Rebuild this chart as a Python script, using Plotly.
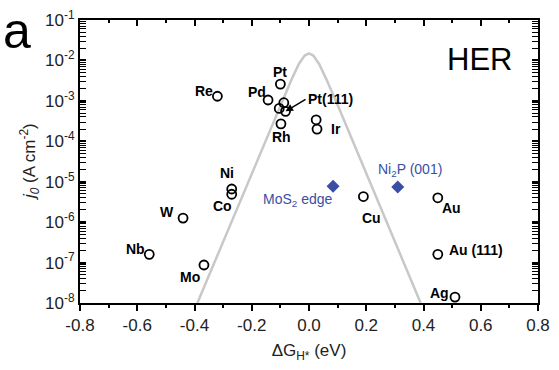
import math
import plotly.graph_objects as go

# ---- data ----
metal_names = ["Re", "Pd", "Pt", "Pt(111)", "", "", "Rh", "", "Ir", "Ni", "Co", "W", "Nb", "Mo",
               "Cu", "Au", "Au (111)", "Ag"]
metal_dG = [-0.32, -0.143, -0.10, -0.088, -0.104, -0.082, -0.098, 0.025, 0.028, -0.27, -0.27,
            -0.44, -0.558, -0.367, 0.19, 0.45, 0.45, 0.51]
metal_j0 = [1.3e-3, 1.05e-3, 2.6e-3, 9.0e-4, 6.5e-4, 5.5e-4, 2.7e-4, 3.4e-4, 2.0e-4, 6.6e-6, 4.9e-6,
            1.26e-6, 1.6e-7, 8.7e-8, 4.3e-6, 4.0e-6, 1.6e-7, 1.4e-8]

catalyst_names = ["MoS<sub>2</sub> edge", "Ni<sub>2</sub>P (001)"]
catalyst_dG = [0.084, 0.31]
catalyst_j0 = [7.7e-6, 7.4e-6]

volcano_dG = [-0.39, -0.10, -0.06, -0.035, -0.015, 0.0, 0.015, 0.035, 0.06, 0.10, 0.39]
volcano_j0 = [1e-8, 7.9e-4, 3.5e-3, 8.3e-3, 1.32e-2, 1.5e-2, 1.32e-2, 8.3e-3, 3.5e-3, 7.9e-4, 1e-8]

x_ticks = [-0.8, -0.6, -0.4, -0.2, 0.0, 0.2, 0.4, 0.6, 0.8]
y_ticks = [1e-8, 1e-7, 1e-6, 1e-5, 1e-4, 1e-3, 1e-2, 1e-1]
y_ticklabels = ["10<sup>-8</sup>", "10<sup>-7</sup>", "10<sup>-6</sup>", "10<sup>-5</sup>",
                "10<sup>-4</sup>", "10<sup>-3</sup>", "10<sup>-2</sup>", "10<sup>-1</sup>"]

# label offsets (pixels: dx right, dy up) — styling only
metal_label_offsets = [(-13, 5), (-11, 8), (0, 12), None, None, None, (1, -13), None, (19, 0),
                       (-5, 16), (-9, -12), (-16, 6), (-14, 5), (-14, -12),
                       (8, -21), (14, -10), (38, 4), (-15, 4)]
catalyst_label_offsets = [(-36, -14), (12, 17)]

FONT = "Liberation Sans, Arial, sans-serif"
BLUE = "#3b4ea6"

fig = go.Figure()

fig.add_trace(go.Scatter(x=volcano_dG, y=volcano_j0, mode="lines",
                         line=dict(color="#c8c8c8", width=2.5), hoverinfo="skip"))

fig.add_trace(go.Scatter(x=metal_dG, y=metal_j0, mode="markers",
                         marker=dict(symbol="circle-open", size=9, color="black",
                                     line=dict(width=1.8, color="black")),
                         cliponaxis=False))

fig.add_trace(go.Scatter(x=catalyst_dG, y=catalyst_j0, mode="markers",
                         marker=dict(symbol="diamond", size=10, color=BLUE),
                         cliponaxis=False))

# invisible trace for top mirror axis
fig.add_trace(go.Scatter(x=[x_ticks[0]], y=[y_ticks[0]], xaxis="x2", mode="markers",
                         marker=dict(opacity=0), hoverinfo="skip"))

annotations = []
for name, xv, yv, off in zip(metal_names, metal_dG, metal_j0, metal_label_offsets):
    if not name or off is None:
        continue
    annotations.append(dict(x=xv, y=math.log10(yv), xref="x", yref="y", text=f"<b>{name}</b>",
                            showarrow=False, xshift=off[0], yshift=off[1],
                            xanchor="center", yanchor="middle",
                            font=dict(family=FONT, size=14, color="black")))

# Pt(111) label with arrow
annotations.append(dict(x=metal_dG[5], y=math.log10(metal_j0[5]), xref="x", yref="y",
                        text="<b>Pt(111)</b>", showarrow=True, ax=20, ay=-12,
                        xanchor="left", arrowhead=2, arrowsize=1, arrowwidth=1.5,
                        arrowcolor="black", standoff=0,
                        font=dict(family=FONT, size=14, color="black")))

for name, xv, yv, off in zip(catalyst_names, catalyst_dG, catalyst_j0, catalyst_label_offsets):
    annotations.append(dict(x=xv, y=math.log10(yv), xref="x", yref="y", text=name,
                            showarrow=False, xshift=off[0], yshift=off[1],
                            xanchor="center", yanchor="middle",
                            font=dict(family=FONT, size=14, color=BLUE)))

annotations.append(dict(x=0.873, y=0.859, xref="paper", yref="paper", text="HER",
                        xanchor="center", yanchor="middle",
                        showarrow=False, font=dict(family=FONT, size=31, color="black")))
annotations.append(dict(x=-0.172, y=1.066, xref="paper", yref="paper", text="a",
                        xanchor="left", yanchor="top",
                        showarrow=False, font=dict(family=FONT, size=50, color="black")))
annotations.append(dict(x=-0.11, y=0.5, xref="paper", yref="paper",
                        text="<i>j<sub>0</sub></i> (A cm<sup>-2</sup>)", textangle=-90,
                        xanchor="center", yanchor="middle",
                        showarrow=False, font=dict(family=FONT, size=17, color="#222222")))

fig.update_layout(
    width=559, height=370,
    margin=dict(l=80, r=21, t=20, b=67),
    paper_bgcolor="white", plot_bgcolor="white",
    showlegend=False,
    font=dict(family=FONT, color="#222222"),
    annotations=annotations,
    xaxis=dict(range=[-0.8, 0.8], tickvals=x_ticks, automargin=False,
               ticktext=[f"{v:.1f}" for v in x_ticks],
               ticks="outside", ticklen=6, tickwidth=1.5, tickcolor="black",
               minor=dict(dtick=0.1, ticks="outside", ticklen=3, tickwidth=1.5, tickcolor="black"),
               showline=True, linewidth=2, linecolor="black", mirror=False,
               showgrid=False, zeroline=False,
               tickfont=dict(family=FONT, size=17, color="#222222"),
               title=dict(text="ΔG<sub>H*</sub> (eV)", font=dict(family=FONT, size=17, color="#222222"),
                          standoff=10)),
    xaxis2=dict(range=[-0.8, 0.8], overlaying="x", side="top", matches="x", automargin=False,
                tickvals=x_ticks, showticklabels=False,
                ticks="inside", ticklen=6, tickwidth=1.5, tickcolor="black",
                minor=dict(dtick=0.1, ticks="inside", ticklen=3, tickwidth=1.5, tickcolor="black"),
                showline=True, linewidth=2, linecolor="black",
                showgrid=False, zeroline=False),
    yaxis=dict(type="log", range=[-8, -1], tickvals=y_ticks, ticktext=y_ticklabels, automargin=False,
               ticks="inside", ticklen=6, tickwidth=1.5, tickcolor="black",
               minor=dict(ticks="inside", ticklen=3, tickwidth=1, tickcolor="black", dtick="D1"),
               showline=True, linewidth=2, linecolor="black", mirror="allticks",
               showgrid=False, zeroline=False,
               tickfont=dict(family=FONT, size=17, color="#222222")),
)

fig.write_html("out.html", config={"displayModeBar": False},
               post_script="document.body.style.margin='0';document.body.style.overflow='hidden';")
